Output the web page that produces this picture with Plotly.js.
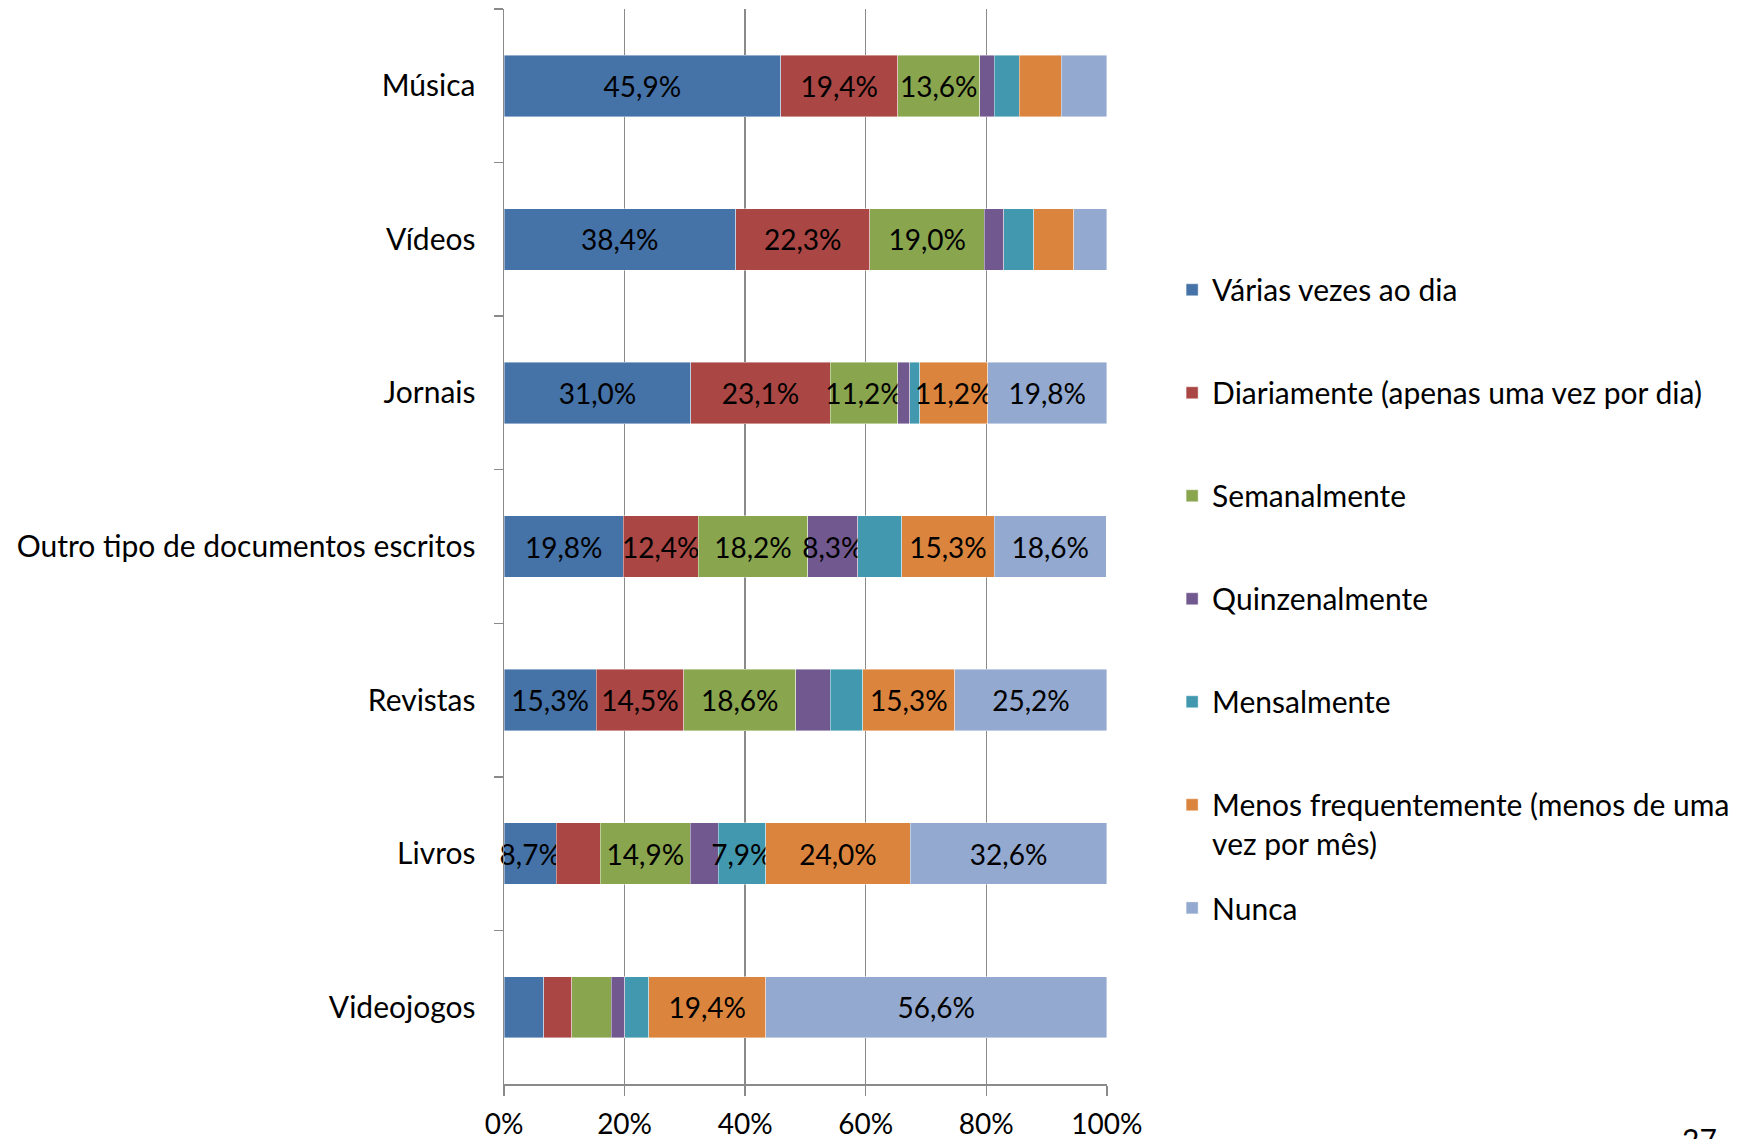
<!DOCTYPE html>
<html>
<head>
<meta charset="utf-8">
<script src="https://cdn.plot.ly/plotly-3.0.1.min.js"></script>
<style>html,body{margin:0;padding:0;background:#fff;}#chart{width:1741px;height:1139px;}</style>
</head>
<body>
<div id="chart"></div>
<script>
const categories = ["Música", "Vídeos", "Jornais", "Outro tipo de documentos escritos", "Revistas", "Livros", "Videojogos"];
const seriesNames = ["Várias vezes ao dia", "Diariamente (apenas uma vez por dia)", "Semanalmente", "Quinzenalmente", "Mensalmente", "Menos frequentemente (menos de uma<br>vez por mês)", "Nunca"];
const variasVezes   = [45.9, 38.4, 31.0, 19.8, 15.3,  8.7,  6.6];
const diariamente   = [19.4, 22.3, 23.1, 12.4, 14.5,  7.3,  4.6];
const semanalmente  = [13.6, 19.0, 11.2, 18.2, 18.6, 14.9,  6.6];
const quinzenal     = [ 2.4,  3.2,  2.0,  8.3,  5.7,  4.6,  2.2];
const mensalmente   = [ 4.2,  5.0,  1.7,  7.3,  5.4,  7.9,  4.0];
const menosFreq     = [ 6.9,  6.6, 11.2, 15.3, 15.3, 24.0, 19.4];
const nunca         = [ 7.6,  5.5, 19.8, 18.6, 25.2, 32.6, 56.6];
const xTickValues = [0, 20, 40, 60, 80, 100];
const labelThreshold = 7.8;

const seriesValues = [variasVezes, diariamente, semanalmente, quinzenal, mensalmente, menosFreq, nunca];
const colors = ["#4572A7", "#AA4643", "#89A54E", "#71588F", "#4198AF", "#DB843D", "#93A9CF"];
const fontFamily = "Lato, 'Open Sans', sans-serif";

const traces = seriesValues.map((vals, i) => ({
  type: "bar",
  orientation: "h",
  name: seriesNames[i],
  legendgroup: "g" + i,
  legend: i === seriesValues.length - 1 ? "legend2" : "legend",
  y: categories,
  x: vals,
  text: vals.map(v => v >= labelThreshold ? v.toFixed(1).replace(".", ",") + "%" : ""),
  textposition: "inside",
  insidetextanchor: "middle",
  textangle: 0,
  constraintext: "none",
  textfont: {family: fontFamily, size: 28, color: "#000"},
  marker: {color: colors[i], line: {width: 0.6, color: "rgba(255,255,255,0.7)"}},
  hoverinfo: "skip",
  cliponaxis: false
}));

const legendFont = {family: fontFamily, size: 30, color: "#000"};

const layout = {
  width: 1741,
  height: 1139,
  margin: {l: 504, r: 634, t: 9, b: 55, autoexpand: false},
  paper_bgcolor: "#fff",
  plot_bgcolor: "#fff",
  barmode: "stack",
  bargap: 0.6,
  font: {family: fontFamily, size: 28, color: "#000"},
  showlegend: true,
  legend: {
    x: 1.108, xanchor: "left",
    y: 0.763, yanchor: "top",
    traceorder: "grouped",
    tracegroupgap: 61,
    valign: "top",
    font: legendFont,
    bgcolor: "rgba(0,0,0,0)"
  },
  legend2: {
    x: 1.108, xanchor: "left",
    y: 0.188, yanchor: "top",
    valign: "top",
    font: legendFont,
    bgcolor: "rgba(0,0,0,0)"
  },
  xaxis: {
    range: [0, 100.02],
    tickvals: xTickValues,
    ticktext: xTickValues.map(v => v + "%"),
    showgrid: true,
    gridcolor: "#8a8a8a",
    gridwidth: 1.5,
    showline: true,
    linecolor: "#8a8a8a",
    linewidth: 1.5,
    ticks: "outside",
    ticklen: 10,
    tickcolor: "#8a8a8a",
    tickwidth: 1.5,
    zeroline: false,
    ticklabelstandoff: 5,
    tickfont: {family: fontFamily, size: 28, color: "#000"},
    fixedrange: true
  },
  yaxis: {
    type: "category",
    categoryorder: "array",
    categoryarray: categories,
    autorange: "reversed",
    showline: true,
    linecolor: "#8a8a8a",
    linewidth: 1.5,
    ticks: "outside",
    tickson: "boundaries",
    ticklen: 9,
    tickcolor: "#8a8a8a",
    tickwidth: 1.5,
    showgrid: false,
    ticklabelstandoff: 21,
    tickfont: {family: fontFamily, size: 30, color: "#000"},
    fixedrange: true
  },
  annotations: [{
    text: "27",
    xref: "paper", yref: "paper",
    x: 1.982, y: -0.033,
    xanchor: "center", yanchor: "top",
    showarrow: false,
    font: {family: fontFamily, size: 30, color: "#000"}
  }]
};

Plotly.newPlot("chart", traces, layout, {displayModeBar: false, staticPlot: true});
</script>
</body>
</html>
